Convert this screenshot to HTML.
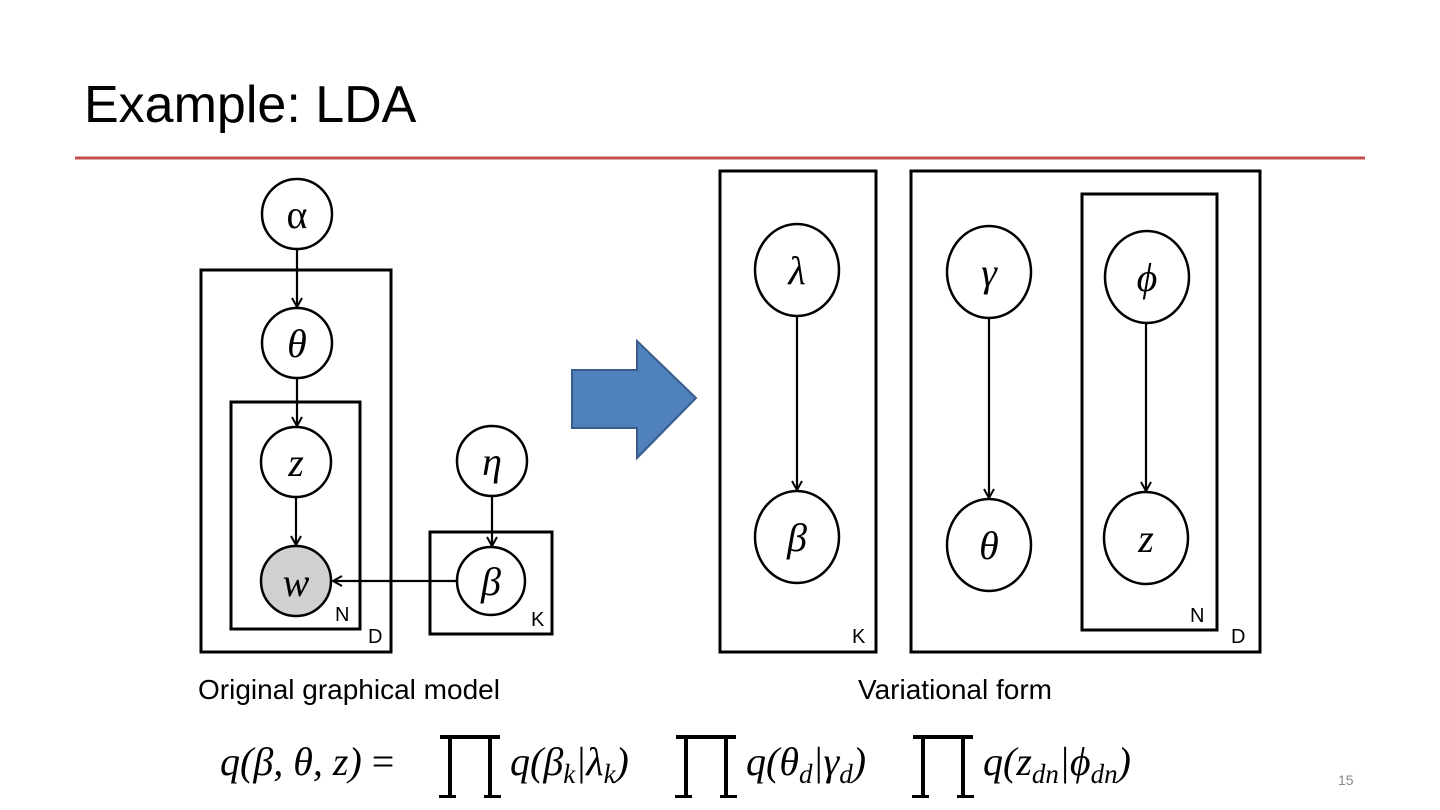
<!DOCTYPE html>
<html><head><meta charset="utf-8"><style>
body{margin:0;width:1440px;height:810px;background:#fff;overflow:hidden}
</style></head><body>
<svg width="1440" height="810" xmlns="http://www.w3.org/2000/svg" style="position:absolute;left:0;top:0">
<defs><marker id="a" markerWidth="12" markerHeight="12" refX="10" refY="6" orient="auto" markerUnits="userSpaceOnUse"><path d="M1,1 L10,6 L1,11" fill="none" stroke="#000" stroke-width="2"/></marker></defs>
<text x="84" y="122" font-family="Liberation Sans, sans-serif" font-size="52">Example: LDA</text>
<line x1="75" y1="158" x2="1365" y2="158" stroke="#c0504d" stroke-width="3"/>
<g fill="none" stroke="#000" stroke-width="3">
<rect x="201" y="270" width="190" height="382"/>
<rect x="231" y="402" width="129" height="227"/>
<rect x="430" y="532" width="122" height="102"/>
<rect x="720" y="171" width="156" height="481"/>
<rect x="911" y="171" width="349" height="481"/>
<rect x="1082" y="194" width="135" height="436"/>
</g>
<g stroke="#000" stroke-width="2.5" fill="#fff">
<circle cx="297" cy="214" r="35"/>
<circle cx="297" cy="343" r="35"/>
<circle cx="296" cy="462" r="35"/>
<circle cx="296" cy="581" r="35" fill="#d0d0d0"/>
<circle cx="492" cy="461" r="35"/>
<circle cx="491" cy="581" r="34"/>
<ellipse cx="797" cy="270" rx="42" ry="46"/>
<ellipse cx="797" cy="537" rx="42" ry="46"/>
<ellipse cx="989" cy="272" rx="42" ry="46"/>
<ellipse cx="989" cy="545" rx="42" ry="46"/>
<ellipse cx="1147" cy="277" rx="42" ry="46"/>
<ellipse cx="1146" cy="538" rx="42" ry="46"/>
</g>
<g stroke="#000" stroke-width="2.2" marker-end="url(#a)">
<line x1="297" y1="249" x2="297" y2="307"/>
<line x1="297" y1="378" x2="297" y2="426"/>
<line x1="296" y1="497" x2="296" y2="545"/>
<line x1="492" y1="496" x2="492" y2="546"/>
<line x1="457" y1="581" x2="333" y2="581"/>
<line x1="797" y1="316" x2="797" y2="490"/>
<line x1="989" y1="318" x2="989" y2="498"/>
<line x1="1146" y1="323" x2="1146" y2="491"/>
</g>
<polygon points="572,370 637,370 637,341 696,398 637,458 637,428 572,428" fill="#4f81bd" stroke="#385d8a" stroke-width="2"/>
<g font-family="Liberation Serif, serif" font-style="italic" font-size="40" text-anchor="middle">
<text x="297" y="228" font-style="normal">α</text>
<text x="297" y="357">θ</text>
<text x="296" y="476">z</text>
<text x="296" y="596">w</text>
<text x="492" y="475">η</text>
<text x="491" y="595">β</text>
<text x="797" y="284">λ</text>
<text x="797" y="551">β</text>
<text x="989" y="286">γ</text>
<text x="989" y="559">θ</text>
<text x="1147" y="291">ϕ</text>
<text x="1146" y="552">z</text>
</g>
<g font-family="Liberation Sans, sans-serif" font-size="20">
<text x="335" y="621">N</text><text x="368" y="643">D</text><text x="531" y="626">K</text>
<text x="852" y="643">K</text><text x="1190" y="622">N</text><text x="1231" y="643">D</text>
</g>
<g font-family="Liberation Sans, sans-serif" font-size="28">
<text x="198" y="699">Original graphical model</text>
<text x="858" y="699">Variational form</text>
</g>
<text x="1338" y="785" font-family="Liberation Sans, sans-serif" font-size="14" fill="#888">15</text>
<g font-family="Liberation Serif, serif" font-style="italic" font-size="40">
<text x="220" y="775">q(β, θ, z) <tspan font-style="normal">=</tspan></text>
<text x="510" y="775">q(β<tspan font-size="27" dy="8">k</tspan><tspan dy="-8">|λ</tspan><tspan font-size="27" dy="8">k</tspan><tspan dy="-8">)</tspan></text>
<text x="746" y="775">q(θ<tspan font-size="27" dy="8">d</tspan><tspan dy="-8">|γ</tspan><tspan font-size="27" dy="8">d</tspan><tspan dy="-8">)</tspan></text>
<text x="983" y="775">q(z<tspan font-size="27" dy="8">dn</tspan><tspan dy="-8">|ϕ</tspan><tspan font-size="27" dy="8">dn</tspan><tspan dy="-8">)</tspan></text>
</g>
<g fill="#000">
<path d="M440,735 H500 V739 H492 V795 H501 V798 H484 V795 H488 V739 H452 V795 H456 V798 H439 V795 H448 V739 H440 Z"/>
<path d="M676,735 H736 V739 H728 V795 H737 V798 H720 V795 H724 V739 H688 V795 H692 V798 H675 V795 H684 V739 H676 Z"/>
<path d="M913,735 H973 V739 H965 V795 H974 V798 H957 V795 H961 V739 H925 V795 H929 V798 H912 V795 H921 V739 H913 Z"/>
</g>
</svg>
</body></html>
